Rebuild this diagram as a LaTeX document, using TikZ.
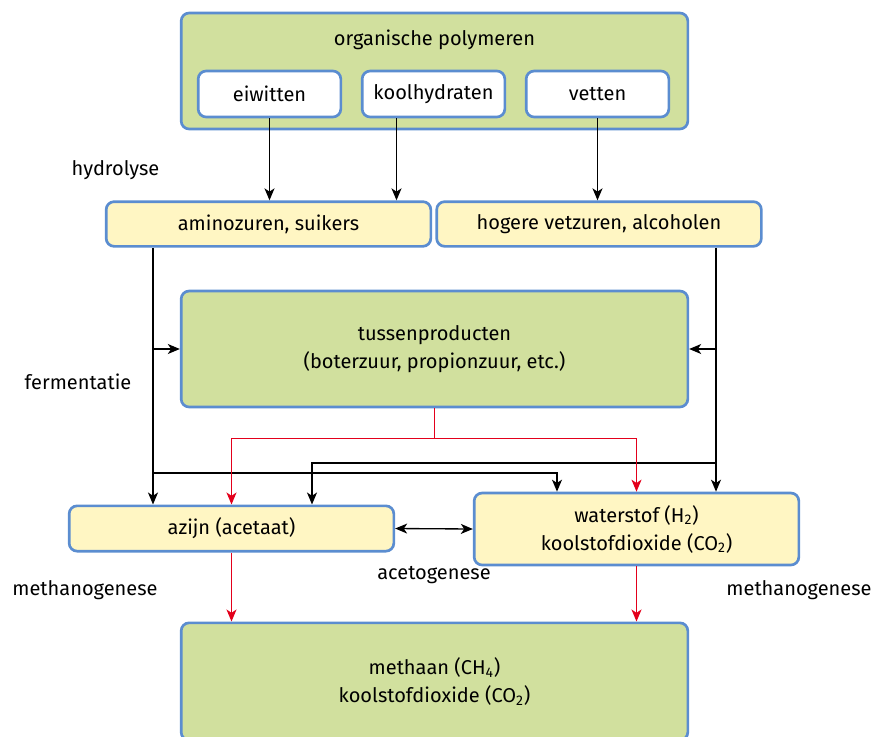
\documentclass[tikz,border=0pt]{standalone}
\usepackage{fontspec}
\setmainfont{Fira Sans}
\usetikzlibrary{arrows.meta,calc}

\definecolor{groen}{HTML}{D1E09E}
\definecolor{geel}{HTML}{FFF6C3}
\definecolor{rand}{HTML}{5B8DD0}
\definecolor{rood}{HTML}{E3001B}

\begin{document}
\begin{tikzpicture}[x=0.75pt,y=-0.75pt,
  doos/.style={draw=rand, line width=2pt, rounded corners=6pt, align=center,
    inner sep=0pt, text=black, font=\fontsize{15}{21}\selectfont},
  groenedoos/.style={doos, fill=groen, minimum width=380pt, minimum height=87pt},
  witdoos/.style={doos, fill=white, minimum width=107pt, minimum height=34.5pt},
  geeldoos/.style={doos, fill=geel, minimum width=243.5pt, minimum height=33.5pt},
  tekst/.style={font=\fontsize{15}{21}\selectfont, text=black},
  punt/.tip={Stealth[length=9pt,width=7.5pt,inset=2.5pt]},
  pijl/.style={line width=1pt, -punt},
  roodpijl/.style={pijl, draw=rood}]
\useasboundingbox (0,0) rectangle (877,736);

% Bovenste blok
\node[groenedoos] (polymeren) at (434.5,71) {};
\node[tekst] (titel) at (434.5,40) {organische polymeren};
\node[witdoos] (eiwitten) at (269.5,94) {eiwitten};
\node[witdoos] (koolhydraten) at (433.5,94) {koolhydraten};
\node[witdoos] (vetten) at (597.5,94) {vetten};

% Hydrolyse
\node[geeldoos] (amino) at (268.5,224) {aminozuren, suikers};
\node[geeldoos] (hogere) at (599,224) {hogere vetzuren, alcoholen};
\draw[pijl] (eiwitten.south) -- (eiwitten.south |- amino.north);
\draw[pijl] ($(koolhydraten.south)+(-37,0)$) -- ($(koolhydraten.south |- amino.north)+(-37,0)$);
\draw[pijl] (vetten.south) -- (vetten.south |- hogere.north);

% Fermentatie
\node[groenedoos] (tussen) at (434.5,349) {tussenproducten\\(boterzuur, propionzuur, etc.)};
\node[geeldoos, minimum height=34pt] (azijn) at (231.5,528.5) {azijn (acetaat)};
\node[geeldoos, minimum height=54pt] (waterstof) at (636.5,529)
  {waterstof (H\textsubscript{2})\\koolstofdioxide (CO\textsubscript{2})};

\coordinate (links) at ($(amino.south)+(-115.5,0)$);
\coordinate (rechts) at ($(hogere.south)+(117,0)$);
\draw[pijl] (links) -- (links |- azijn.north);
\draw[pijl] (rechts) -- (rechts |- waterstof.north);
\draw[pijl] (links |- tussen.west) -- (tussen.west);
\draw[pijl] (rechts |- tussen.east) -- (tussen.east);
\draw[pijl] (rechts |- 0,463) -| ($(azijn.north)+(80.5,0)$);
\draw[pijl] (links |- 0,473) -| ($(waterstof.north)+(-79.5,0)$);

% rode pijlen vanuit de tussenproducten
\draw[roodpijl] (tussen.south) -- ++(0,30) coordinate (splits) -| (azijn.north);
\draw[roodpijl] (splits) -| (waterstof.north);

% Acetogenese
\draw[pijl, punt-punt] (azijn.east) -- (waterstof.west);

% Methanogenese
\node[groenedoos, minimum height=88pt] (methaan) at (434.5,681.5)
  {methaan (CH\textsubscript{4})\\koolstofdioxide (CO\textsubscript{2})};
\draw[roodpijl] (azijn.south) -- (azijn.south |- methaan.north);
\draw[roodpijl] (waterstof.south) -- (waterstof.south |- methaan.north);

% Labels
\node[tekst] (hydrolyse) at (115.5,170) {hydrolyse};
\node[tekst] (fermentatie) at (78,382) {fermentatie};
\node[tekst] (acetogenese) at (434,575) {acetogenese};
\node[tekst] (methlinks) at (85,590) {methanogenese};
\node[tekst] (methrechts) at (799,590) {methanogenese};
\end{tikzpicture}
\end{document}
